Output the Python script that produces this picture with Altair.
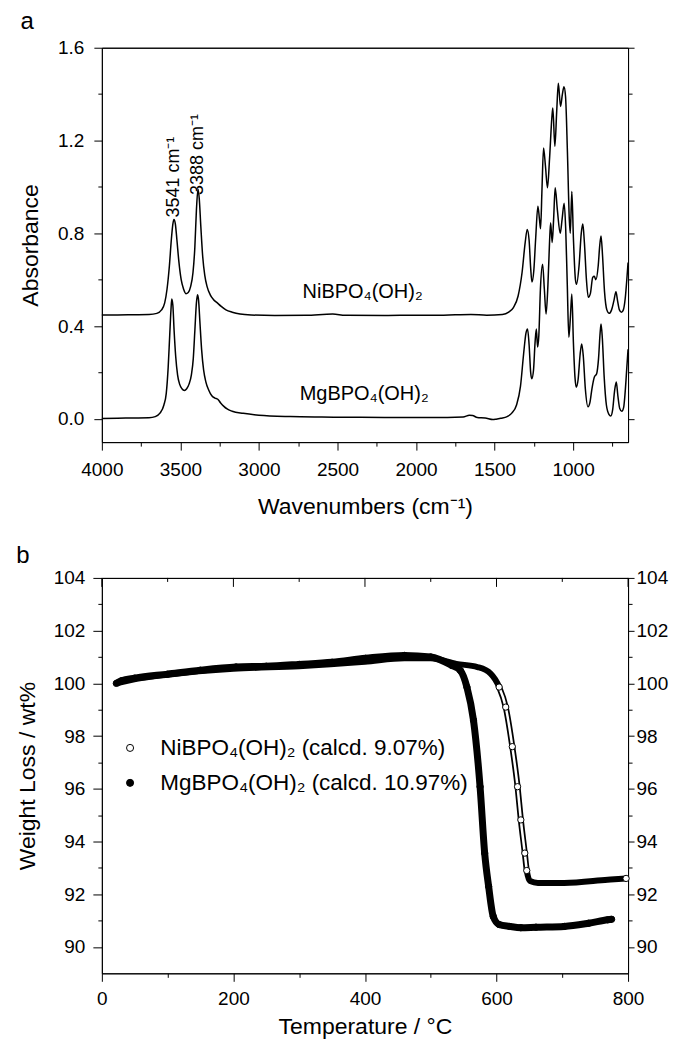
import altair as alt
import pandas as pd

FONT = "Liberation Sans"

# ---------------- panel a : IR spectra ----------------
ir_wn_ni = [4000, 3900, 3800, 3700, 3650, 3620, 3600, 3585, 3570, 3558,
            3548, 3541, 3532, 3522, 3510, 3495, 3480, 3465, 3450, 3435,
            3420, 3408, 3398, 3388, 3380, 3370, 3358, 3345, 3330, 3310,
            3290, 3265, 3240, 3210, 3170, 3120, 3050, 2900, 2700, 2530,
            2450, 2200, 2000, 1850, 1750, 1650, 1550, 1450, 1410, 1380,
            1350, 1325, 1305, 1292, 1280, 1270, 1262, 1250, 1238, 1224,
            1214, 1207, 1198, 1188, 1176, 1163, 1150, 1135, 1129, 1116,
            1104, 1094, 1080, 1068, 1058, 1048, 1036, 1024, 1018, 1008,
            998, 985, 978, 962, 948, 938, 928, 915, 903, 890,
            875, 865, 855, 840, 830, 822, 813, 800, 785, 770,
            755, 740, 727, 717, 705, 692, 680, 668, 658, 650]
ir_abs_ni = [0.448, 0.448, 0.449, 0.450, 0.455, 0.470, 0.500, 0.560, 0.660, 0.770,
             0.840, 0.860, 0.840, 0.770, 0.680, 0.600, 0.560, 0.540, 0.545, 0.570,
             0.630, 0.740, 0.900, 0.990, 0.950, 0.830, 0.700, 0.620, 0.570, 0.535,
             0.515, 0.500, 0.485, 0.470, 0.460, 0.452, 0.448, 0.446, 0.447, 0.452,
             0.447, 0.446, 0.447, 0.447, 0.449, 0.450, 0.447, 0.450, 0.460, 0.480,
             0.530, 0.630, 0.760, 0.817, 0.770, 0.650, 0.590, 0.640, 0.780, 0.917,
             0.860, 0.820, 0.990, 1.168, 1.090, 0.996, 1.120, 1.300, 1.340, 1.175,
             1.330, 1.447, 1.347, 1.400, 1.432, 1.390, 1.150, 0.860, 0.800, 0.980,
             0.780, 0.600, 0.580, 0.660, 0.800, 0.840, 0.760, 0.600, 0.524, 0.540,
             0.610, 0.615, 0.600, 0.660, 0.750, 0.789, 0.710, 0.550, 0.470, 0.455,
             0.470, 0.510, 0.548, 0.510, 0.470, 0.460, 0.470, 0.520, 0.600, 0.674]

ir_wn_mg = [4000, 3900, 3800, 3700, 3660, 3630, 3605, 3590, 3578, 3568,
            3560, 3555, 3548, 3540, 3530, 3518, 3505, 3490, 3475, 3460,
            3445, 3430, 3418, 3408, 3398, 3391, 3384, 3376, 3365, 3352,
            3338, 3320, 3300, 3280, 3262, 3245, 3225, 3200, 3170, 3100,
            3000, 2800, 2600, 2400, 2200, 2000, 1800, 1700, 1660, 1640,
            1610, 1560, 1510, 1490, 1460, 1420, 1390, 1360, 1335, 1315,
            1300, 1290, 1280, 1270, 1263, 1252, 1242, 1234, 1226, 1218,
            1208, 1194, 1183, 1172, 1160, 1150, 1143, 1133, 1124, 1114,
            1100, 1082, 1070, 1057, 1047, 1037, 1027, 1017, 1008, 998,
            988, 980, 968, 955, 945, 935, 922, 905, 893, 880,
            865, 850, 838, 828, 822, 814, 802, 788, 772, 760,
            748, 736, 725, 715, 703, 690, 678, 668, 658, 650]
ir_abs_mg = [0.002, 0.003, 0.004, 0.005, 0.010, 0.025, 0.060, 0.110, 0.220, 0.360,
             0.470, 0.517, 0.490, 0.380, 0.270, 0.190, 0.150, 0.130, 0.123, 0.130,
             0.150, 0.190, 0.260, 0.380, 0.500, 0.535, 0.510, 0.420, 0.300, 0.210,
             0.160, 0.125, 0.100, 0.090, 0.085, 0.070, 0.055, 0.042, 0.033, 0.024,
             0.016, 0.010, 0.008, 0.007, 0.006, 0.006, 0.006, 0.008, 0.016, 0.015,
             0.006, 0.004, -0.003, -0.001, 0.003, 0.010, 0.025, 0.060, 0.140, 0.280,
             0.370, 0.388, 0.320, 0.200, 0.173, 0.210, 0.330, 0.388, 0.310, 0.360,
             0.560, 0.667, 0.560, 0.452, 0.580, 0.760, 0.846, 0.760, 0.860, 0.996,
             0.900, 0.800, 0.860, 0.930, 0.820, 0.580, 0.352, 0.440, 0.538, 0.330,
             0.180, 0.137, 0.170, 0.280, 0.323, 0.270, 0.130, 0.052, 0.070, 0.130,
             0.180, 0.195, 0.260, 0.370, 0.409, 0.350, 0.180, 0.060, 0.020, 0.013,
             0.040, 0.120, 0.159, 0.100, 0.045, 0.033, 0.050, 0.120, 0.220, 0.300]

ann_text = ["NiBPO₄(OH)₂", "MgBPO₄(OH)₂"]
ann_x = [2340, 2330]
ann_y = [0.545, 0.108]

peak_text = ["3541 cm⁻¹", "3388 cm⁻¹"]
peak_x = [3541, 3388]
peak_y = [0.868, 0.965]

ir_x_ticks = [4000, 3750, 3500, 3250, 3000, 2750, 2500, 2250, 2000, 1750, 1500, 1250, 1000, 750]
ir_y_ticks = [0.0, 0.2, 0.4, 0.6, 0.8, 1.0, 1.2, 1.4, 1.6]

# ---------------- panel b : TGA ----------------
ni_name = "NiBPO₄(OH)₂ (calcd. 9.07%)"
mg_name = "MgBPO₄(OH)₂ (calcd. 10.97%)"

tga_t_ni = [22, 60, 100, 200, 300, 400, 460, 500, 539, 571, 591, 604, 614, 624,
            632, 637, 643, 646, 651, 663, 703, 769, 797]
tga_w_ni = [100.0, 100.2, 100.33, 100.55, 100.65, 100.82, 100.95, 100.95, 100.74,
            100.62, 100.37, 99.86, 99.1, 97.6, 96.08, 94.82, 93.56, 92.9, 92.5,
            92.43, 92.43, 92.55, 92.6]

tga_t_mg = [22, 30, 50, 100, 150, 204, 250, 300, 350, 401, 460, 500, 532, 545,
            555, 565, 575, 582, 588, 595, 604, 620, 637, 660, 703, 740, 769, 775]
tga_w_mg = [100.0, 100.1, 100.2, 100.35, 100.5, 100.62, 100.65, 100.72, 100.8,
            100.95, 101.06, 101.0, 100.68, 100.49, 99.86, 98.6, 96.08, 93.56, 92.3,
            91.16, 90.85, 90.78, 90.73, 90.75, 90.78, 90.9, 91.03, 91.05]

tga_x_ticks = [0, 100, 200, 300, 400, 500, 600, 700, 800]
tga_y_ticks = [90, 91, 92, 93, 94, 95, 96, 97, 98, 99, 100, 101, 102, 103, 104]

# ---------------- data frames ----------------
ni_ir = pd.DataFrame({"wn": ir_wn_ni, "A": ir_abs_ni})
mg_ir = pd.DataFrame({"wn": ir_wn_mg, "A": ir_abs_mg})
ann_df = pd.DataFrame({"wn": ann_x, "A": ann_y, "t": ann_text})
peak_df = pd.DataFrame({"wn": peak_x, "A": peak_y, "t": peak_text})

tga = pd.concat([
    pd.DataFrame({"T": tga_t_ni, "W": tga_w_ni, "s": ni_name}),
    pd.DataFrame({"T": tga_t_mg, "W": tga_w_mg, "s": mg_name}),
], ignore_index=True)
top_ticks = pd.DataFrame({"T": tga_x_ticks})

LBL = 19
TTL = 23

def cond_size(test, major, minor):
    return {"condition": {"test": test, "value": major}, "value": minor}

# ---------------- panel a chart ----------------
xs_a = alt.Scale(domain=[4000, 650], nice=False, zero=False)
ys_a = alt.Scale(domain=[-0.1, 1.6], nice=False, zero=False)

x_test_a = "datum.value % 500 == 0"
y_test_a = "abs(datum.value / 0.4 - round(datum.value / 0.4)) < 0.001"

ax_bottom_a = alt.Axis(values=ir_x_ticks, format="d", title="Wavenumbers (cm⁻¹)",
                       labelExpr=f"{x_test_a} ? datum.label : ''",
                       tickSize=cond_size(x_test_a, 8, 4), labelOverlap=False,
                       labelFlush=False, labelPadding=10, titlePadding=16)
ax_left_a = alt.Axis(values=ir_y_ticks, format=".1f", title="Absorbance",
                     labelExpr=f"{y_test_a} ? datum.label : ''",
                     tickSize=cond_size(y_test_a, 8, 4), labelOverlap=False,
                     labelPadding=10, titlePadding=15)
ax_top_a = alt.Axis(orient="top", ticks=False, labels=False, title=None)
ax_right_a = alt.Axis(orient="right", values=ir_y_ticks, labels=False, title=None,
                      tickSize=cond_size(y_test_a, 6, 4))

ni_line = alt.Chart(ni_ir).mark_line(color="black", strokeWidth=1.5, interpolate="monotone").encode(
    x=alt.X("wn:Q", scale=xs_a, axis=ax_bottom_a),
    y=alt.Y("A:Q", scale=ys_a, axis=ax_left_a),
)
mg_line = alt.Chart(mg_ir).mark_line(color="black", strokeWidth=1.5, interpolate="monotone").encode(
    x=alt.X("wn:Q", scale=xs_a, axis=ax_top_a),
    y=alt.Y("A:Q", scale=ys_a, axis=ax_right_a),
)
ann = alt.Chart(ann_df).mark_text(font=FONT, fontSize=20, color="black",
                                  align="center", baseline="middle").encode(
    x=alt.X("wn:Q", scale=xs_a, axis=None),
    y=alt.Y("A:Q", scale=ys_a, axis=None),
    text="t:N",
)
peaks = alt.Chart(peak_df).mark_text(font=FONT, fontSize=18, color="black", angle=270,
                                     align="left", baseline="middle").encode(
    x=alt.X("wn:Q", scale=xs_a, axis=None),
    y=alt.Y("A:Q", scale=ys_a, axis=None),
    text="t:N",
)

panel_a = alt.layer(ni_line, mg_line, ann, peaks).resolve_axis(
    x="independent", y="independent"
).properties(
    width=527, height=395,
    title=alt.TitleParams("a", anchor="start", frame="bounds", fontSize=24, font=FONT,
                          fontWeight="normal", color="black", offset=5, dx=1),
)

# ---------------- panel b chart ----------------
xs_b = alt.Scale(domain=[0, 800], nice=False, zero=False)
ys_b = alt.Scale(domain=[89, 104], nice=False, zero=False)

x_test_b = "datum.value % 200 == 0"
y_test_b = "datum.value % 2 == 0"

ax_bottom_b = alt.Axis(values=tga_x_ticks, format="d", title="Temperature / °C",
                       labelExpr=f"{x_test_b} ? datum.label : ''",
                       tickSize=cond_size(x_test_b, 8, 4), labelOverlap=False,
                       labelFlush=False, labelPadding=8, titlePadding=7)
ax_left_b = alt.Axis(values=tga_y_ticks, format="d", title="Weight Loss / wt%",
                     labelExpr=f"{y_test_b} ? datum.label : ''",
                     tickSize=cond_size(y_test_b, 9, 4), labelOverlap=False,
                     labelPadding=8, titlePadding=14)
ax_right_b = alt.Axis(orient="right", values=tga_y_ticks, format="d", title=None,
                      labelExpr=f"{y_test_b} ? datum.label : ''",
                      tickSize=cond_size(y_test_b, 6, 4), labelOverlap=False,
                      labelPadding=2)
ax_top_b = alt.Axis(orient="top", ticks=False, labels=False, title=None)

ni_tga = alt.Chart(tga).transform_filter(f"datum.s == '{ni_name}'").mark_line(
    color="black", strokeWidth=6, interpolate="monotone").encode(
    x=alt.X("T:Q", scale=xs_b, axis=ax_bottom_b),
    y=alt.Y("W:Q", scale=ys_b, axis=ax_left_b),
)
ni_hollow = alt.Chart(tga).transform_filter(
    f"datum.s == '{ni_name}' && datum.T >= 600 && datum.T <= 646").mark_line(
    color="white", strokeWidth=2.5, interpolate="monotone").encode(
    x=alt.X("T:Q", scale=xs_b, axis=None),
    y=alt.Y("W:Q", scale=ys_b, axis=None),
)
mg_tga = alt.Chart(tga).transform_filter(f"datum.s == '{mg_name}'").mark_line(
    color="black", strokeWidth=7, interpolate="monotone").encode(
    x=alt.X("T:Q", scale=xs_b, axis=ax_top_b),
    y=alt.Y("W:Q", scale=ys_b, axis=ax_right_b),
)
pts = alt.Chart(tga).transform_filter(
    f"datum.s == '{mg_name}' || (datum.T >= 600 && datum.T <= 646) || datum.T >= 790"
).mark_point(shape="circle", filled=True, stroke="black", strokeWidth=1, size=40,
             opacity=1).encode(
    x=alt.X("T:Q", scale=xs_b, axis=None),
    y=alt.Y("W:Q", scale=ys_b, axis=None),
    fill=alt.Fill("s:N", scale=alt.Scale(domain=[ni_name, mg_name], range=["white", "black"]),
                  legend=alt.Legend(title=None, orient="none", legendX=17, legendY=159,
                                    labelFont=FONT, labelFontSize=22.5, labelColor="black",
                                    symbolSize=50, symbolStrokeColor="black",
                                    symbolStrokeWidth=1, symbolType="circle",
                                    symbolOpacity=1,
                                    rowPadding=12, labelOffset=19, padding=0,
                                    labelLimit=400)),
)
top_major = alt.Chart(top_ticks).transform_filter("datum.T % 200 == 0").mark_rule(
    color="black", strokeWidth=1).encode(
    x=alt.X("T:Q", scale=xs_b, axis=None), y=alt.value(0), y2=alt.value(9))
top_minor = alt.Chart(top_ticks).transform_filter("datum.T % 200 != 0").mark_rule(
    color="black", strokeWidth=1).encode(
    x=alt.X("T:Q", scale=xs_b, axis=None), y=alt.value(0), y2=alt.value(4))

panel_b = alt.layer(ni_tga, ni_hollow, mg_tga, pts, top_major, top_minor).resolve_axis(
    x="independent", y="independent"
).properties(
    width=527, height=396,
    title=alt.TitleParams("b", anchor="start", frame="bounds", fontSize=24, font=FONT,
                          fontWeight="normal", color="black", offset=1, dx=0),
)

chart = alt.vconcat(panel_a, panel_b, spacing=24).resolve_legend(
    fill="independent"
).properties(
    padding={"left": 7, "top": 0, "right": 0, "bottom": 0},
).configure(
    font=FONT,
    background="white",
).configure_view(
    stroke="black", strokeWidth=1,
).configure_axis(
    grid=False, domainColor="black", domainWidth=1, tickColor="black", tickWidth=1,
    labelFont=FONT, labelFontSize=LBL, labelColor="black",
    titleFont=FONT, titleFontSize=TTL, titleFontWeight="normal", titleColor="black",
)

chart.save("out.html", embed_options={"renderer": "svg", "actions": False})
